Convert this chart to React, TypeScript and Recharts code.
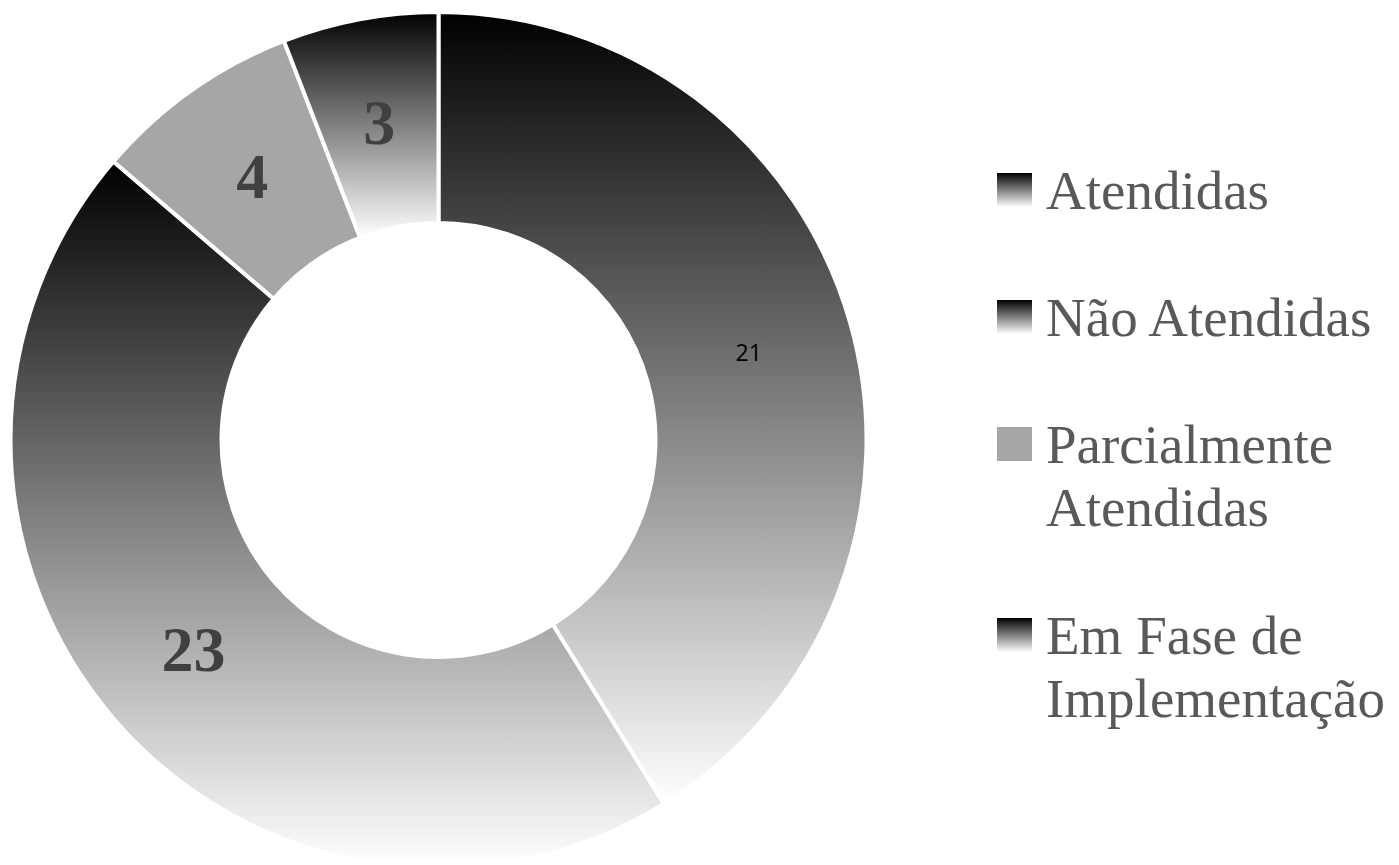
import React from 'react';
import { PieChart, Pie, Cell, Legend } from 'recharts';

const categories = ['Atendidas', 'Não Atendidas', 'Parcialmente Atendidas', 'Em Fase de Implementação'];
const values = [21, 23, 4, 3];
// legend text split the way the original wraps it
const legendLines = [['Atendidas'], ['Não Atendidas'], ['Parcialmente', 'Atendidas'], ['Em Fase de', 'Implementação']];

const data = categories.map((name, i) => ({ name, value: values[i] }));

const SERIF = '"Liberation Serif", "Times New Roman", serif';
const GRAY = '#a6a6a6';

// slice / legend fill: vertical dark->light gradient, except the flat gray one
const fillFor = (i: number) => (i === 2 ? GRAY : `url(#grad${i})`);

function SliceLabel(props: any) {
  const { cx, cy, midAngle, innerRadius, outerRadius, value, index } = props;
  const r = (innerRadius + outerRadius) / 2;
  const rad = (Math.PI / 180) * midAngle;
  const x = cx + r * Math.cos(rad);
  const y = cy - r * Math.sin(rad);
  if (index === 0) {
    // the first label was left in the default small sans style
    return (
      <text x={x} y={y} textAnchor="middle" dominantBaseline="central"
        fill="#000" fontSize={23} fontFamily='"Open Sans", "Liberation Sans", sans-serif'>
        {value}
      </text>
    );
  }
  return (
    <text x={x} y={y} textAnchor="middle" dominantBaseline="central"
      fill="#404040" fontSize={64} fontWeight={700} fontFamily={SERIF}>
      {value}
    </text>
  );
}

// rows of the legend, in px inside the legend box
const rowTops = [13, 140, 267, 458];
const LINE = 63;

function LegendBox() {
  return (
    <svg width={400} height={600} style={{ display: 'block' }}>
      {legendLines.map((lines, i) => (
        <g key={i}>
          <rect x={1} y={rowTops[i]} width={35} height={34} fill={fillFor(i)} />
          {lines.map((t, j) => (
            <text key={j} x={50} y={rowTops[i] + 36 + j * LINE}
              fontSize={55} fontFamily={SERIF} fill="#595959">
              {t}
            </text>
          ))}
        </g>
      ))}
    </svg>
  );
}

export default function App() {
  return (
    <div style={{ width: 1383, height: 849, position: 'relative' }}>
      {/* the ring runs past the bottom edge of the page, like the original */}
      <style>{'.recharts-surface{overflow:visible}'}</style>
      <svg width={0} height={0} style={{ position: 'absolute' }}>
        <defs>
          {[0, 1, 3].map((i) => (
            <linearGradient key={i} id={`grad${i}`} x1="0" y1="0" x2="0" y2="1">
              <stop offset="0%" stopColor="#000000" />
              <stop offset="100%" stopColor="#ffffff" />
            </linearGradient>
          ))}
        </defs>
      </svg>
      <PieChart width={1383} height={849} margin={{ top: 0, right: 0, bottom: 0, left: 0 }}>
        <Pie
          data={data}
          dataKey="value"
          nameKey="name"
          cx={430.5}
          cy={432}
          innerRadius={217}
          outerRadius={428}
          startAngle={90}
          endAngle={-270}
          stroke="#ffffff"
          strokeWidth={4}
          label={SliceLabel}
          labelLine={false}
          isAnimationActive={false}
        >
          {data.map((d, i) => (
            <Cell key={d.name} fill={fillFor(i)} />
          ))}
        </Pie>
        <Legend
          content={() => <LegendBox />}
          wrapperStyle={{ position: 'absolute', left: 988, top: 152, width: 400, height: 600 }}
        />
      </PieChart>
    </div>
  );
}
